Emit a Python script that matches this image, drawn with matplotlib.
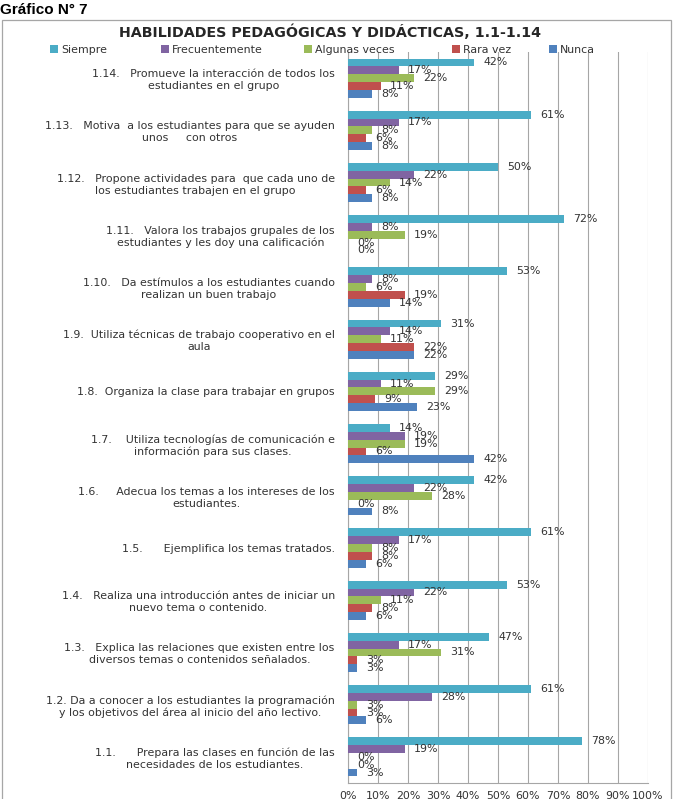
import matplotlib
matplotlib.use("Agg")
import matplotlib.pyplot as plt
import numpy as np
from matplotlib.patches import Rectangle

# datos del grafico (de arriba hacia abajo: 1.14 ... 1.1)
items = [
    "1.14.   Promueve la interacción de todos los\nestudiantes en el grupo",
    "1.13.   Motiva  a los estudiantes para que se ayuden\nunos     con otros",
    "1.12.   Propone actividades para  que cada uno de\nlos estudiantes trabajen en el grupo",
    "1.11.   Valora los trabajos grupales de los\nestudiantes y les doy una calificación",
    "1.10.   Da estímulos a los estudiantes cuando\nrealizan un buen trabajo",
    "1.9.  Utiliza técnicas de trabajo cooperativo en el\naula",
    "1.8.  Organiza la clase para trabajar en grupos",
    "1.7.    Utiliza tecnologías de comunicación e\ninformación para sus clases.",
    "1.6.     Adecua los temas a los intereses de los\nestudiantes.",
    "1.5.      Ejemplifica los temas tratados.",
    "1.4.   Realiza una introducción antes de iniciar un\nnuevo tema o contenido.",
    "1.3.   Explica las relaciones que existen entre los\ndiversos temas o contenidos señalados.",
    "1.2. Da a conocer a los estudiantes la programación\ny los objetivos del área al inicio del año lectivo.",
    "1.1.      Prepara las clases en función de las\nnecesidades de los estudiantes.",
]
series = ["Siempre", "Frecuentemente", "Algunas veces", "Rara vez", "Nunca"]
siempre        = [42, 61, 50, 72, 53, 31, 29, 14, 42, 61, 53, 47, 61, 78]
frecuentemente = [17, 17, 22,  8,  8, 14, 11, 19, 22, 17, 22, 17, 28, 19]
algunas        = [22,  8, 14, 19,  6, 11, 29, 19, 28,  8, 11, 31,  3,  0]
rara           = [11,  6,  6,  0, 19, 22,  9,  6,  0,  8,  8,  3,  3,  0]
nunca          = [ 8,  8,  8,  0, 14, 22, 23, 42,  8,  6,  6,  3,  6,  3]
xticks = ["0%", "10%", "20%", "30%", "40%", "50%", "60%", "70%", "80%", "90%", "100%"]

colores = ["#4BACC6", "#8064A2", "#9BBB59", "#C0504D", "#4F81BD"]
valores = [siempre, frecuentemente, algunas, rara, nunca]

fuente = "DejaVu Sans"
tam = 7.9
gris = "#333333"

fig = plt.figure(figsize=(6.78, 7.99), dpi=100)
ax = fig.add_axes([348/678, 1 - 783/799, 300/678, (783 - 52)/799])

y = np.arange(len(items))
h = 0.15
barras = []
for i, (nombre, vals, col) in enumerate(zip(series, valores, colores)):
    pos = y + (i - 2) * h
    b = ax.barh(pos, vals, height=h, color=col, label=nombre, zorder=3)
    barras.append(b)
    for p, v in zip(pos, vals):
        ax.annotate("%d%%" % v, (v, p), xytext=(6.5, 0), textcoords="offset points",
                    va="center", ha="left", fontsize=tam, family=fuente,
                    color=gris, zorder=4)

ax.set_xlim(0, 100)
ax.set_ylim(len(items) - 0.5, -0.5)
ax.set_xticks(np.arange(0, 101, 10))
ax.set_xticklabels(xticks, family=fuente, fontsize=tam, color=gris)
ax.set_yticks(y)
ax.set_yticklabels(items, family=fuente, fontsize=tam, color=gris, linespacing=1.25)
for t in ax.get_yticklabels():
    t.set_multialignment("center")
ax.tick_params(axis="y", length=0, pad=9.5)
ax.tick_params(axis="x", length=0, pad=6)
ax.grid(axis="x", color="#A6A6A6", linewidth=0.8, zorder=0)
ax.spines["top"].set_visible(False)
ax.spines["right"].set_visible(False)
ax.spines["left"].set_color("#A6A6A6")
ax.spines["bottom"].set_color("#A6A6A6")

# titulo
fig.text(330/678, 1 - 32/799, "HABILIDADES PEDAGÓGICAS Y DIDÁCTICAS, 1.1-1.14",
         ha="center", va="center", fontsize=10.3, fontweight="bold", family=fuente,
         color="#262626")

# leyenda: una entrada por posicion
x_leyenda = [50, 161, 304, 452, 549]
for b, nombre, xl in zip(barras, series, x_leyenda):
    fig.legend(handles=[b], labels=[nombre], loc="center left",
               bbox_to_anchor=(xl/678, 1 - 50/799), frameon=False,
               prop={"family": fuente, "size": tam}, labelcolor=gris,
               handlelength=0.75, handleheight=0.75, handletextpad=0.25,
               borderpad=0, borderaxespad=0)

fig.text(0.0, 1 - 10/799, "Gráfico N° 7", ha="left", va="center", fontsize=11,
         fontweight="bold", family="Liberation Sans")

# marco del grafico
fig.add_artist(Rectangle((2/678, -0.05), 669/678, 1.05 - 20/799, transform=fig.transFigure,
                         fill=False, edgecolor="#A6A6A6", linewidth=0.9))

fig.savefig("out.png", dpi=100)
